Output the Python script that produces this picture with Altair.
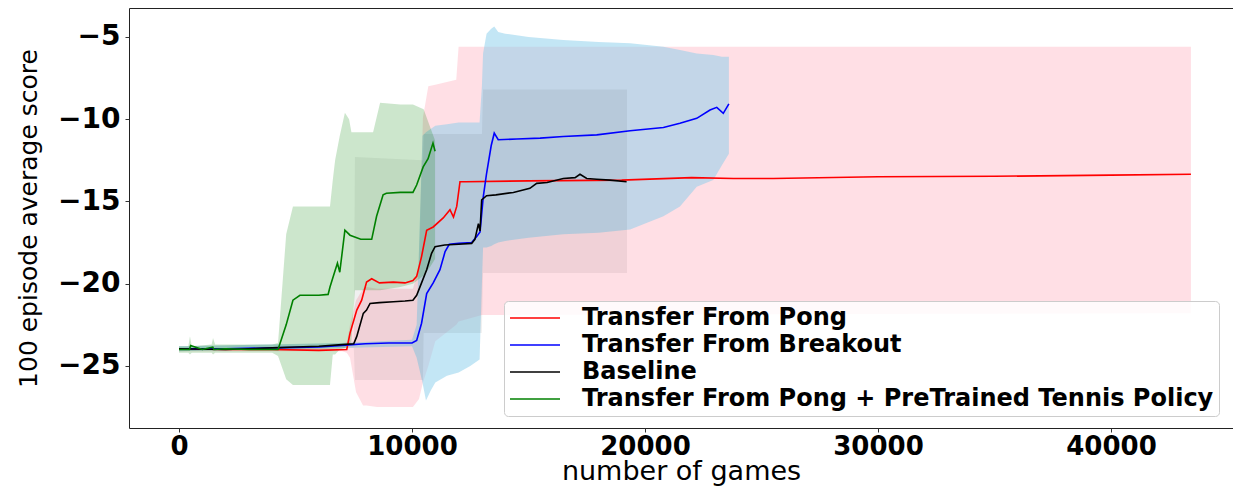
import altair as alt
import pandas as pd

# ---------------- data ----------------
series_names = ["Transfer From Pong", "Transfer From Breakout", "Baseline",
                "Transfer From Pong + PreTrained Tennis Policy"]
series_colors = ["#ff0000", "#0000ff", "#000000", "#008000"]

x_ticks = [0, 10000, 20000, 30000, 40000]
y_ticks = [-5, -10, -15, -20, -25]

# Transfer From Pong (red)
pong_x = [0, 2000, 4000, 6000, 7200, 7340, 7630, 7840, 8050, 8270, 8600, 9200, 9700, 10040,
          10200, 10410, 10630, 10910, 11340, 11630, 11780, 11920, 12060, 12300, 15000, 19000,
          22000, 23800, 25500, 30000, 35000, 40000, 43430]
pong_y = [-23.95, -24.0, -24.0, -24.05, -24.0, -23.0, -21.6, -21.0, -19.9, -19.7, -19.95, -19.9,
          -19.95, -19.8, -19.55, -18.35, -16.75, -16.55, -16.0, -15.5, -15.95, -15.3, -13.8,
          -13.8, -13.75, -13.7, -13.55, -13.6, -13.6, -13.5, -13.47, -13.4, -13.35]

# Transfer From Breakout (blue)
breakout_x = [0, 2000, 4000, 6000, 7000, 8000, 9000, 10000, 10200, 10410, 10630, 10910, 11200,
              11420, 11600, 12000, 12560, 12770, 12920, 13060, 13200, 13400, 13530, 13700, 14500,
              15500, 16490, 17930, 19360, 20790, 21500, 22220, 22790, 23080, 23360, 23600]
breakout_y = [-23.95, -23.95, -23.9, -23.85, -23.75, -23.65, -23.6, -23.6, -23.45, -22.4, -20.6,
              -19.95, -19.15, -18.05, -17.6, -17.55, -17.5, -17.15, -16.85, -14.7, -13.3, -11.6,
              -10.85, -11.25, -11.2, -11.15, -11.05, -10.95, -10.7, -10.5, -10.25, -9.95, -9.44,
              -9.28, -9.64, -9.07]

# Baseline (black)
base_x = [0, 2000, 4000, 5000, 6000, 7000, 7500, 7630, 7910, 8050, 8200, 8600, 9200, 9700,
          10040, 10200, 10410, 10630, 10840, 10990, 11400, 12000, 12560, 12700, 12850, 12920,
          12990, 13200, 13600, 14350, 15060, 15350, 15800, 16490, 17000, 17210, 17500, 17930,
          18500, 19210]
base_y = [-23.95, -24.0, -23.9, -23.85, -23.8, -23.7, -23.65, -23.2, -21.8, -21.6, -21.2, -21.15,
          -21.1, -21.05, -21.0, -20.7, -19.95, -19.15, -18.15, -17.75, -17.65, -17.6, -17.55,
          -17.3, -16.35, -16.8, -14.9, -14.65, -14.6, -14.45, -14.2, -13.9, -13.85, -13.6,
          -13.55, -13.35, -13.6, -13.65, -13.7, -13.8]

# Transfer From Pong + PreTrained Tennis Policy (green)
tennis_x = [0, 450, 500, 1000, 1450, 1500, 2000, 3000, 4250, 4600, 4890, 5190, 6000, 6400, 6480,
            6700, 6800, 6900, 7120, 7340, 7800, 8270, 8480, 8760, 8900, 9500, 10040, 10200,
            10480, 10690, 10900, 10990]
tennis_y = [-24.0, -24.0, -23.75, -24.0, -23.85, -24.0, -23.95, -24.0, -24.0, -22.5, -21.0, -20.7,
            -20.7, -20.65, -20.2, -19.2, -18.75, -19.3, -16.75, -17.05, -17.3, -17.3, -15.9,
            -14.6, -14.5, -14.45, -14.45, -14.0, -12.9, -12.4, -11.45, -11.95]

# shaded ranges
pong_band_x = [0, 7000, 7200, 7340, 7600, 7900, 8050, 8500, 10040, 10300, 10470, 10700, 11000,
               11900, 12000, 13000, 43430]
pong_band_lo = [-24.1, -24.1, -24.2, -24.5, -26.6, -27.4, -27.4, -27.5, -27.5, -27.0, -26.0,
                -25.0, -23.5, -22.5, -22.3, -21.9, -21.8]
pong_band_hi = [-23.9, -23.9, -23.6, -22.5, -21.0, -20.3, -20.2, -20.3, -20.3, -19.0, -9.9,
                -8.0, -7.9, -7.6, -5.6, -5.6, -5.6]

breakout_band_x = [0, 7000, 10000, 10200, 10450, 10600, 10800, 11000, 11500, 12000, 12500,
                   12900, 13000, 13050, 13200, 13400, 13530, 13700, 14000, 15000, 16490, 18000,
                   19360, 20790, 21500, 22220, 22930, 23300, 23600]
breakout_band_lo = [-24.1, -23.9, -23.8, -24.5, -26.0, -27.1, -26.5, -26.0, -25.6, -25.4, -25.0,
                    -24.6, -20.0, -17.8, -17.8, -17.7, -17.6, -17.5, -17.4, -17.2, -17.0, -16.9,
                    -16.7, -15.9, -15.3, -14.1, -13.7, -12.8, -12.1]
breakout_band_hi = [-23.8, -23.6, -23.4, -22.5, -11.0, -10.8, -10.6, -10.4, -10.3, -10.2, -10.2,
                    -10.2, -8.0, -6.0, -4.8, -4.5, -4.37, -4.7, -4.8, -5.0, -5.18, -5.3, -5.38,
                    -5.6, -5.8, -6.0, -6.1, -6.2, -6.2]

base_band_x = [0, 7000, 7500, 7550, 10470, 10500, 13000, 13050, 19230]
base_band_lo = [-24.1, -23.9, -23.9, -25.85, -25.85, -23.0, -23.0, -19.35, -19.35]
base_band_hi = [-23.8, -23.6, -23.5, -12.3, -12.5, -10.9, -10.9, -8.2, -8.2]

tennis_band_x = [0, 400, 470, 550, 1400, 1460, 1550, 4000, 4250, 4600, 4890, 6480, 6600, 6700,
                 6900, 7120, 7300, 7400, 7550, 8330, 8630, 9500, 10040, 10500, 10770, 10990]
tennis_band_lo = [-24.2, -24.2, -24.3, -24.2, -24.2, -24.3, -24.2, -24.2, -24.4, -25.8, -26.15,
                  -26.15, -24.3, -24.3, -24.0, -23.9, -23.7, -23.5, -20.4, -20.4, -20.4, -20.2,
                  -20.0, -19.5, -19.0, -18.5]
tennis_band_hi = [-23.8, -23.8, -23.2, -23.8, -23.7, -23.3, -23.7, -23.7, -23.6, -17.0, -15.3,
                  -15.3, -13.7, -12.5, -11.0, -9.6, -10.0, -10.8, -10.8, -10.8, -9.0, -9.1, -9.1,
                  -9.4, -10.45, -11.3]

# ---------------- tables ----------------
line_rows = []
for name, xs, ys in [(series_names[0], pong_x, pong_y),
                     (series_names[1], breakout_x, breakout_y),
                     (series_names[2], base_x, base_y),
                     (series_names[3], tennis_x, tennis_y)]:
    for i, (a, b) in enumerate(zip(xs, ys)):
        line_rows.append({"series": name, "x": a, "y": b, "i": i})
lines_df = pd.DataFrame(line_rows)


def band_df(xs, lo, hi):
    return pd.DataFrame({"x": xs, "lo": lo, "hi": hi})


xscale = alt.Scale(domain=[-2146, 45236], nice=False, zero=False)
yscale = alt.Scale(domain=[-28.77, -3.24], nice=False, zero=False)

xaxis = alt.Axis(values=x_ticks, format="d", grid=False, domain=False,
                 tickSize=4, tickColor="#333333", tickWidth=1,
                 labelFont="DejaVu Sans", labelFontWeight="bold", labelFontSize=26,
                 labelColor="black", labelPadding=1, labelFlush=False,
                 title="number of games", titleFont="DejaVu Sans", titleFontWeight="normal",
                 titleFontSize=27, titleColor="black", titleBaseline="alphabetic",
                 titleY=51)
yaxis = alt.Axis(values=y_ticks, format="d", grid=False, domain=False,
                 tickSize=4, tickColor="#333333", tickWidth=1,
                 labelFont="DejaVu Sans", labelFontWeight="bold", labelFontSize=28,
                 labelColor="black", labelPadding=5, labelFlush=False,
                 title="100 episode average score", titleFont="DejaVu Sans",
                 titleFontWeight="normal", titleFontSize=25, titleColor="black",
                 titleBaseline="alphabetic", titleX=-93, titleY=210, titleAngle=-90)


def band(df, color, op):
    return alt.Chart(df).mark_area(color=color, opacity=op, clip=True).encode(
        x=alt.X("x:Q", scale=xscale, axis=xaxis),
        y=alt.Y("lo:Q", scale=yscale, axis=yaxis),
        y2="hi:Q",
    )


bands = [
    band(band_df(pong_band_x, pong_band_lo, pong_band_hi), "#ffc0cb", 0.5),
    band(band_df(breakout_band_x, breakout_band_lo, breakout_band_hi), "#87ceeb", 0.5),
    band(band_df(base_band_x, base_band_lo, base_band_hi), "#000000", 0.06),
    band(band_df(tennis_band_x, tennis_band_lo, tennis_band_hi), "#008000", 0.2),
]

lines = alt.Chart(lines_df).mark_line(strokeWidth=1.6, clip=True).encode(
    x=alt.X("x:Q", scale=xscale, axis=xaxis),
    y=alt.Y("y:Q", scale=yscale, axis=yaxis),
    color=alt.Color("series:N",
                    scale=alt.Scale(domain=series_names, range=series_colors),
                    legend=alt.Legend(title=None, orient="none", legendX=375, legendY=293,
                                      symbolType="stroke", symbolSize=2500,
                                      symbolStrokeWidth=1.5, labelFont="DejaVu Sans",
                                      labelFontWeight="bold", labelFontSize=24,
                                      labelColor="black", labelOffset=21, labelLimit=1000,
                                      padding=5, rowPadding=3, clipHeight=24,
                                      fillColor="rgba(255,255,255,0.85)",
                                      strokeColor="#cccccc", cornerRadius=4)),
    order="i:Q",
)

chart = alt.layer(*bands, lines).properties(
    width=1104, height=420,
    autosize=alt.AutoSizeParams(type="none"),
    padding={"left": 121, "top": 0, "right": 0, "bottom": 58},
).configure_view(stroke="#222222", strokeWidth=1)

chart.save("out.html", embed_options={"renderer": "svg", "actions": False})
